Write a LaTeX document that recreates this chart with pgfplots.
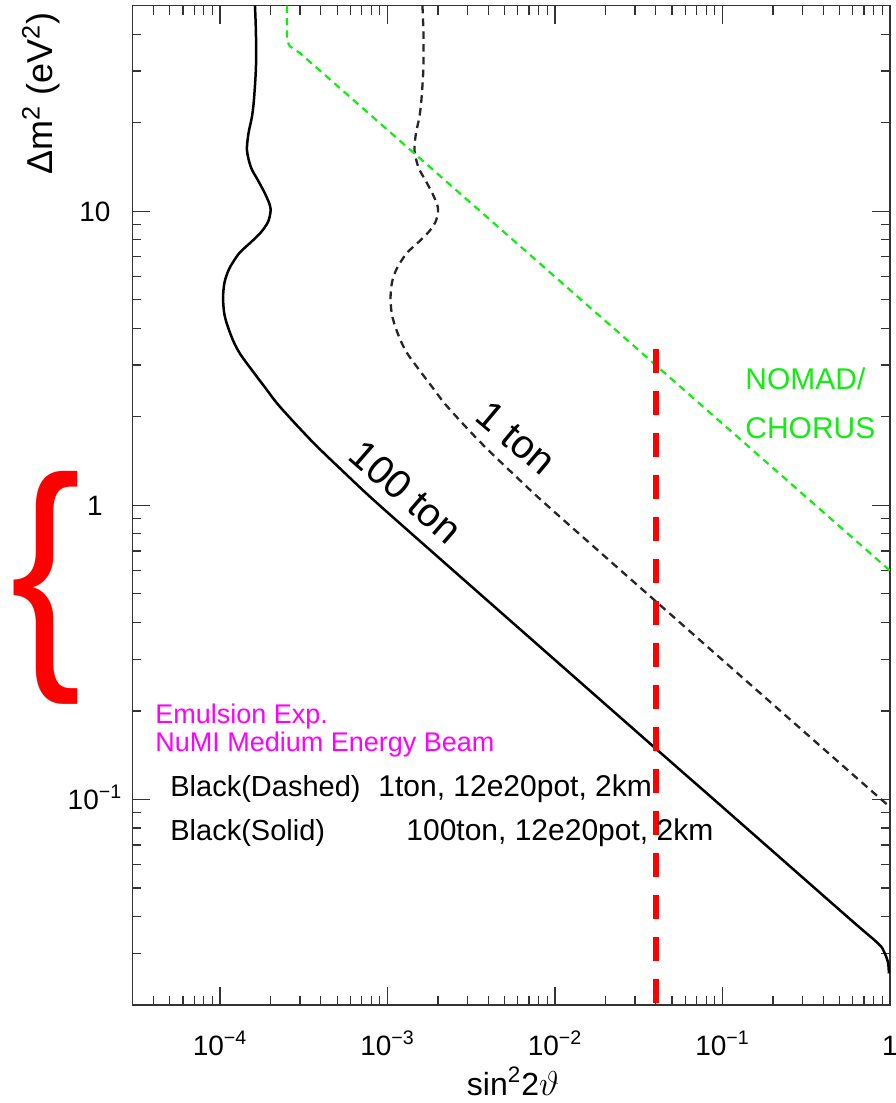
\documentclass[border=0pt]{standalone}
\usepackage{fontspec}
\setmainfont{Liberation Sans}
\usepackage{pgfplots}
\pgfplotsset{compat=1.18}
\definecolor{nomad}{RGB}{20,235,20}
\definecolor{emul}{RGB}{255,0,255}
\begin{document}
\begin{tikzpicture}
\begin{axis}[
  at={(0,0)}, anchor=south west,
  scale only axis, width=378.75pt, height=499.65pt,
  xmode=log, ymode=log,
  xmin=3e-5, xmax=1, ymin=0.02, ymax=50,
  xtick={1e-4,1e-3,1e-2,1e-1,1},
  xticklabels={10\textsuperscript{−4},10\textsuperscript{−3},10\textsuperscript{−2},10\textsuperscript{−1},1},
  minor xtick={4e-5,5e-5,6e-5,7e-5,8e-5,9e-5,2e-4,3e-4,4e-4,5e-4,6e-4,7e-4,8e-4,9e-4,2e-3,3e-3,4e-3,5e-3,6e-3,7e-3,8e-3,9e-3,2e-2,3e-2,4e-2,5e-2,6e-2,7e-2,8e-2,9e-2,0.2,0.3,0.4,0.5,0.6,0.7,0.8,0.9},
  ytick={0.1,1,10},
  yticklabels={10\textsuperscript{−1},1,10},
  minor ytick={0.03,0.04,0.05,0.06,0.07,0.08,0.09,0.2,0.3,0.4,0.5,0.6,0.7,0.8,0.9,2,3,4,5,6,7,8,9,20,30,40},
  major tick length=9pt, minor tick length=4.5pt,
  tick style={black!80, line width=0.6pt},
  axis line style={black!80, line width=0.75pt},
  ticklabel style={font=\fontsize{14}{16}\selectfont},
  xticklabel style={anchor=base, yshift=-25pt},
  yticklabel style={anchor=base, xshift=-18.75pt, yshift=-5pt},
  clip mode=individual,
]
% 100 ton (solid)
\addplot[black, line width=1.25pt, smooth, tension=0.5] coordinates {
(1.616e-4,50) (1.638e-4,40.3) (1.638e-4,30.9) (1.593e-4,23.9) (1.549e-4,20.9)
(1.478e-4,18.4) (1.448e-4,16.1) (1.529e-4,14.1) (1.683e-4,12.75) (1.853e-4,11.5)
(1.985e-4,10.48) (2.0e-4,9.92) (1.931e-4,9.18) (1.754e-4,8.48) (1.529e-4,7.85)
(1.315e-4,7.25) (1.194e-4,6.71) (1.123e-4,6.30) (1.063e-4,5.73) (1.042e-4,5.10)
(1.057e-4,4.53) (1.10e-4,4.13) (1.195e-4,3.64) (1.31e-4,3.29) (1.51e-4,2.94)
(1.853e-4,2.52) (2.28e-4,2.163) (3.58e-4,1.64) (5.71e-4,1.269) (8.96e-4,1.0)
(3.53e-3,0.502) (0.0399,0.149) (0.0973,0.0955) (0.5623,0.0397) (0.849,0.0324)
(0.920,0.0304) (0.973,0.0279) (0.985,0.0256)};
% 1 ton (dashed)
\addplot[black!85, line width=1.15pt, dash pattern=on 3.8pt off 2.6pt, smooth, tension=0.5] coordinates {
(1.616e-3,50) (1.638e-3,40.3) (1.638e-3,30.9) (1.593e-3,23.9) (1.549e-3,20.9)
(1.478e-3,18.4) (1.448e-3,16.1) (1.529e-3,14.1) (1.683e-3,12.75) (1.853e-3,11.5)
(1.985e-3,10.48) (2.0e-3,9.92) (1.931e-3,9.18) (1.754e-3,8.48) (1.529e-3,7.85)
(1.315e-3,7.25) (1.194e-3,6.71) (1.123e-3,6.30) (1.063e-3,5.73) (1.042e-3,5.10)
(1.057e-3,4.53) (1.10e-3,4.13) (1.195e-3,3.64) (1.31e-3,3.29) (1.51e-3,2.94)
(1.853e-3,2.52) (2.28e-3,2.163) (3.58e-3,1.64) (5.71e-3,1.269) (8.96e-3,1.0)
(0.0353,0.502) (0.399,0.149) (0.973,0.0955) (1.0,0.0942)};
% NOMAD / CHORUS
\addplot[nomad, line width=1.1pt, dash pattern=on 3.6pt off 2.6pt] coordinates {
(2.51e-4,50) (2.51e-4,38) (2.61e-4,36.4) (3.0e-4,34.5) (1,0.6)};
% red vertical line
\addplot[red, line width=3pt, dash pattern=on 11.75pt off 9.25pt] coordinates {
(0.0399,3.4) (0.0399,0.02)};

\node[rotate=90, anchor=base, font=\fontsize{18}{20}\selectfont] at (rel axis cs:-0.106,0.9121) {Δm\textsuperscript{2} (eV\textsuperscript{2})};
\node[anchor=base, font=\fontsize{16}{18}\selectfont] at (rel axis cs:0.5023,-0.0901) {sin\textsuperscript{2}2$\vartheta$};
\node[text=red, font=\fontsize{125}{125}\selectfont, inner sep=0pt, anchor=center] at (rel axis cs:-0.1142,0.4173) {\scalebox{0.85}[1]{\{}};
\node[text=emul, anchor=base west, inner sep=0pt, font=\fontsize{13.5}{15}\selectfont] at (rel axis cs:0.0297,0.2822) {Emulsion Exp.};
\node[text=emul, anchor=base west, inner sep=0pt, font=\fontsize{13.5}{15}\selectfont] at (rel axis cs:0.0297,0.2532) {NuMI Medium Energy Beam};
\node[anchor=base west, inner sep=0pt, font=\fontsize{14.5}{16}\selectfont] at (rel axis cs:0.0495,0.2091) {Black(Dashed)};
\node[anchor=base west, inner sep=0pt, font=\fontsize{15}{16}\selectfont] at (rel axis cs:0.3241,0.2091) {1ton, 12e20pot, 2km};
\node[anchor=base west, inner sep=0pt, font=\fontsize{14.5}{16}\selectfont] at (rel axis cs:0.0495,0.1651) {Black(Solid)};
\node[anchor=base west, inner sep=0pt, font=\fontsize{15}{16}\selectfont] at (rel axis cs:0.3611,0.1651) {100ton, 12e20pot, 2km};
\node[text=nomad, anchor=base west, inner sep=0pt, font=\fontsize{15}{17}\selectfont] at (rel axis cs:0.8086,0.6164) {NOMAD/};
\node[text=nomad, anchor=base west, inner sep=0pt, font=\fontsize{15}{17}\selectfont] at (rel axis cs:0.8086,0.5664) {CHORUS};
\node[rotate=-41, font=\fontsize{20}{22}\selectfont, inner sep=0pt] at (rel axis cs:0.3611,0.5134) {100 ton};
\node[rotate=-40, font=\fontsize{20}{22}\selectfont, inner sep=0pt] at (rel axis cs:0.5063,0.5674) {1 ton};
\end{axis}
\pgfresetboundingbox
\path[use as bounding box] (-66.25pt,-49pt) rectangle (381.25pt,502.5pt);
\end{tikzpicture}
\end{document}
